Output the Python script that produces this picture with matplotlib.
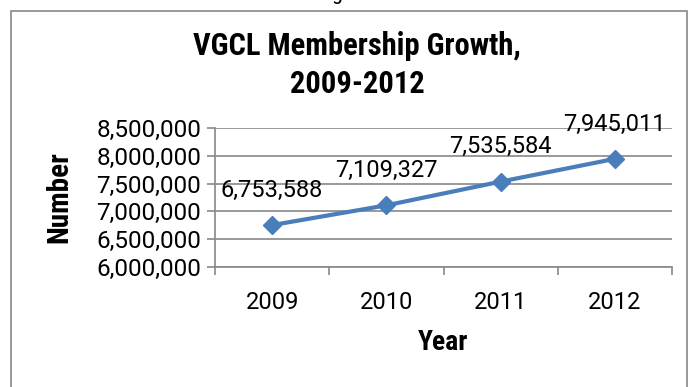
import matplotlib.pyplot as plt
from matplotlib.patches import Rectangle
from matplotlib.ticker import FuncFormatter

years = ["2009", "2010", "2011", "2012"]
members = [6753588, 7109327, 7535584, 7945011]
y_ticks = [6000000, 6500000, 7000000, 7500000, 8000000, 8500000]

W, H = 690, 387
fig = plt.figure(figsize=(W / 100, H / 100), dpi=100)

narrow = ['Roboto Condensed', 'Liberation Sans', 'DejaVu Sans']
num_font = ['Roboto', 'DejaVu Sans']
grey = '#888888'
blue = '#4A7EBB'

# chart border (bottom runs off the picture)
fig.patches.append(Rectangle((11 / W, -0.05), (687 - 11) / W, 1.05 - 11 / H,
                             transform=fig.transFigure, fill=False,
                             edgecolor=grey, linewidth=1.2))
# tail of a cut-off character above the chart
fig.text(337 / W, 1 + 1 / H, 'g', ha='center', va='baseline',
         family=narrow, fontsize=16)

ax = fig.add_axes([215 / W, 1 - 267 / H, (672 - 215) / W, (267 - 128) / H])
x = range(len(years))
ax.plot(x, members, color=blue, linewidth=3, marker='D', markersize=9.5,
        zorder=3, clip_on=False)
for i, v in enumerate(members):
    ax.annotate(f"{v:,}", (i, v), xytext=(0, 25), textcoords='offset points',
                ha='center', va='center', family=num_font, fontsize=17,
                zorder=4)

ax.set_xlim(-0.5, len(years) - 0.5)
ax.set_ylim(y_ticks[0], y_ticks[-1])
ax.set_yticks(y_ticks)
ax.yaxis.set_major_formatter(FuncFormatter(lambda v, p: f"{int(v):,}"))
ax.set_xticks([i - 0.5 for i in range(len(years) + 1)])
ax.set_xticklabels([])
ax.set_xticks(list(x), minor=True)
ax.set_xticklabels(years, minor=True, family=num_font, fontsize=17)
ax.tick_params(axis='x', which='minor', length=0, pad=17)
ax.tick_params(axis='x', which='major', length=6, color=grey, width=1.2)
ax.tick_params(axis='y', length=6, color=grey, width=1.2, pad=4)
for lbl in ax.get_yticklabels():
    lbl.set_family(num_font)
    lbl.set_fontsize(17.5)

ax.grid(axis='y', color=grey, linewidth=1.2)
ax.set_axisbelow(True)
for s in ['top', 'right']:
    ax.spines[s].set_visible(False)
for s in ['left', 'bottom']:
    ax.spines[s].set_color(grey)
    ax.spines[s].set_linewidth(1.2)

fig.text(357 / W, 1 - 46 / H, "VGCL Membership Growth,", ha='center',
         va='center', family=narrow, fontweight='bold', fontsize=22)
fig.text(357 / W, 1 - 84 / H, "2009-2012", ha='center', va='center',
         family=narrow, fontweight='bold', fontsize=22)
fig.text(59 / W, 1 - 197 / H, "Number", rotation=90, ha='center',
         va='center', family=narrow, fontweight='bold', fontsize=21)
fig.text(443 / W, 1 - 342 / H, "Year", ha='center', va='center',
         family=narrow, fontweight='bold', fontsize=20)

fig.savefig('out.png', dpi=100)
